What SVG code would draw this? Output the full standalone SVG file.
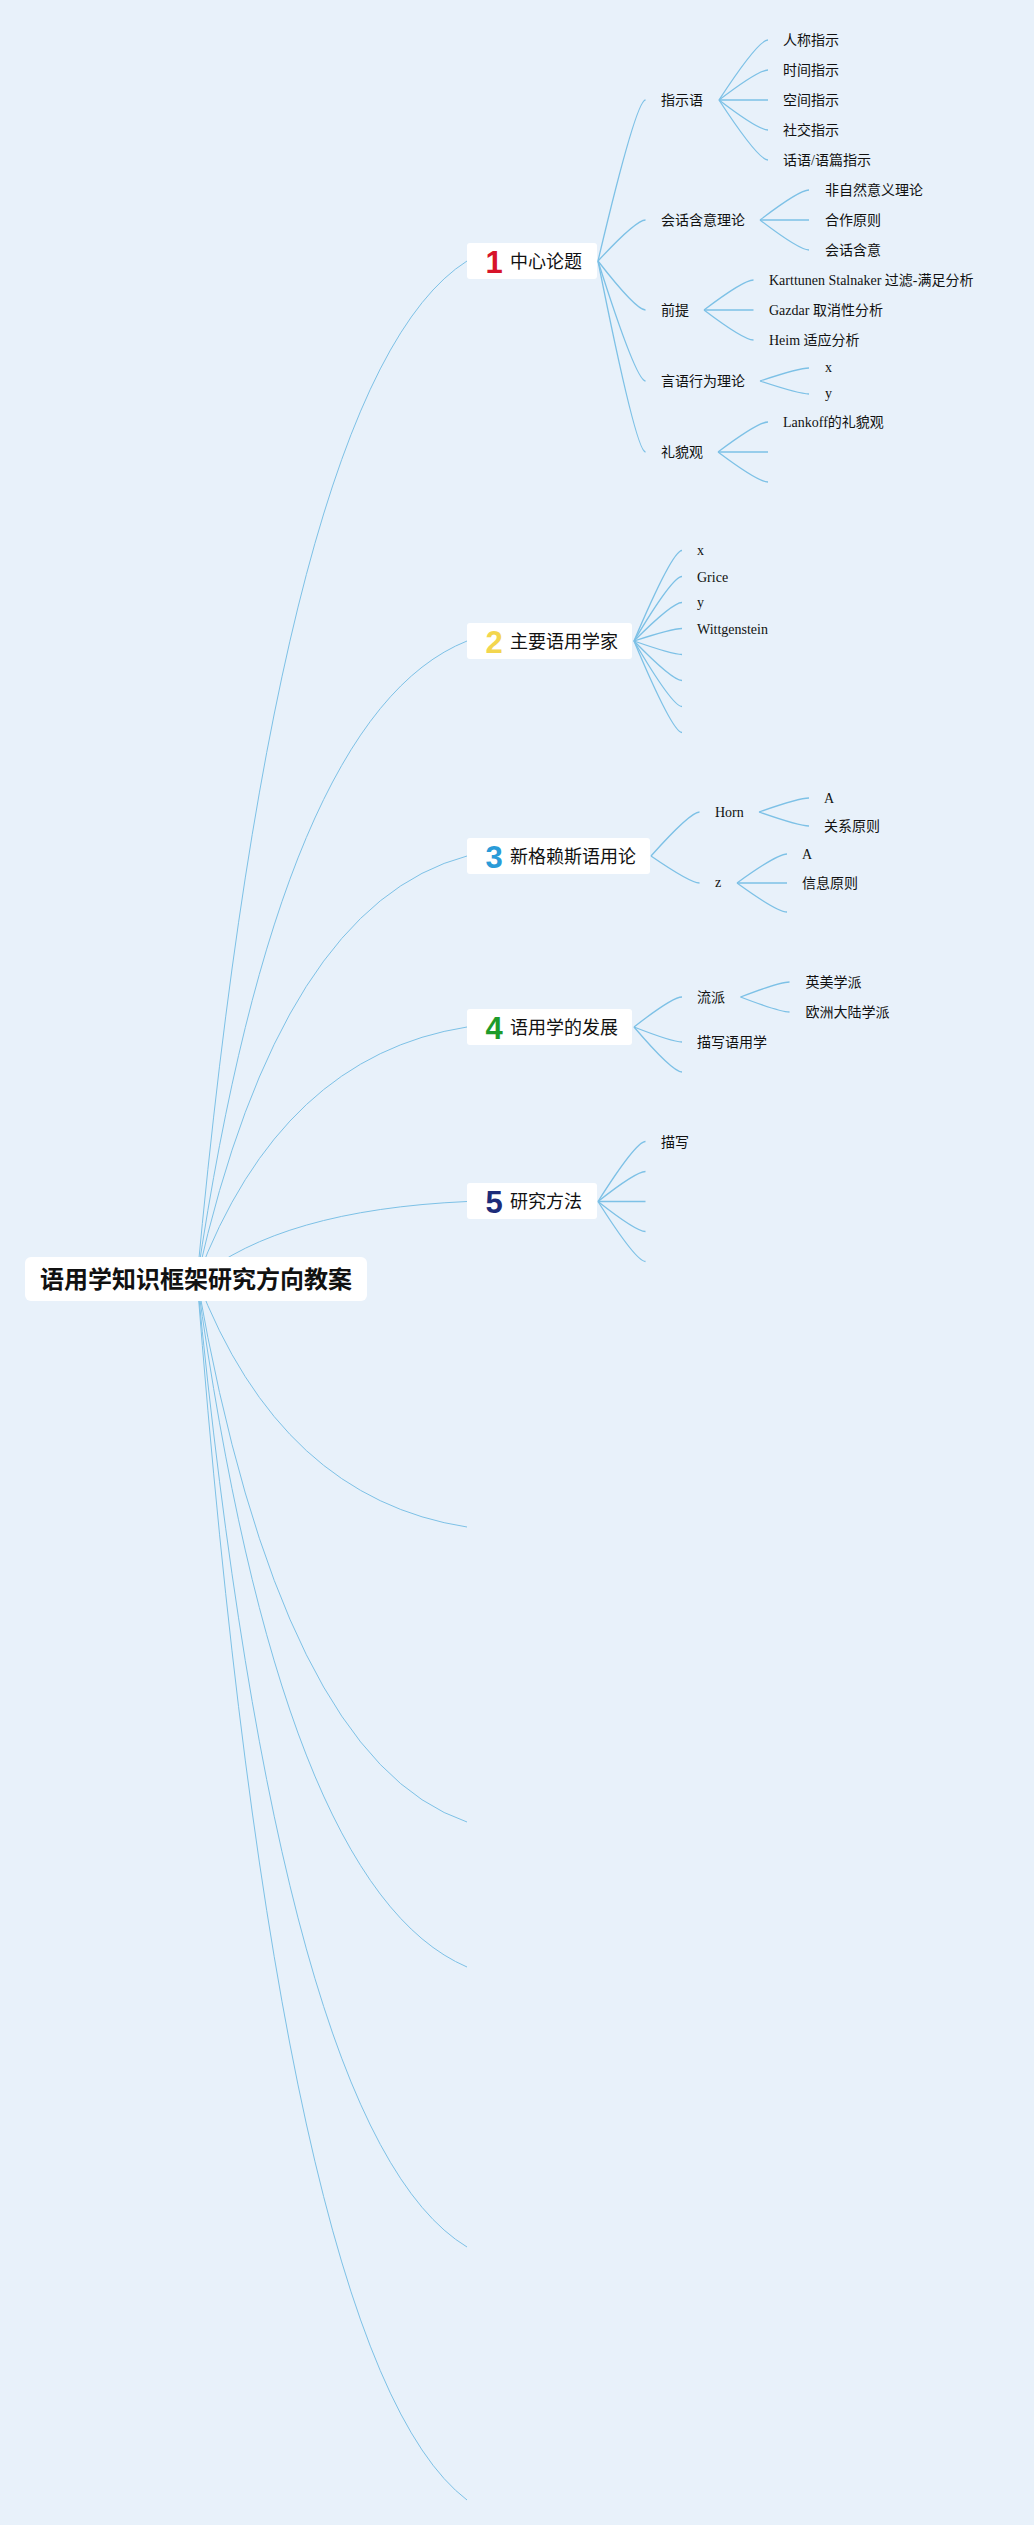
<svg xmlns="http://www.w3.org/2000/svg" width="1034" height="2525" viewBox="0 0 1034 2525">
<style>
.bg{fill:#E8F1FA}
.main{fill:none;stroke:#7DC1E6;stroke-width:1}
.sub{fill:none;stroke:#7DC1E6;stroke-width:1.3}
.box{fill:#FFFFFF}
.root{font-family:"Noto Sans CJK SC","Noto Sans",sans-serif;font-size:24px;font-weight:700;fill:#111}
.num{font-family:"Liberation Sans",Arial,sans-serif;font-size:31px;font-weight:700}
.title{font-family:"Noto Sans CJK SC","Noto Sans",sans-serif;font-size:18px;fill:#111}
.leaf{font-family:"Liberation Serif","Noto Sans CJK SC",serif;font-size:14px;fill:#111}
</style>
<rect class="bg" x="0" y="0" width="1034" height="2525"/>
<g id="connectors">
<path class="main" d="M197 1279 Q280.7 379.1 467 261"/>
<path class="main" d="M197 1279 Q280.7 715 467 641"/>
<path class="main" d="M197 1279 Q280.7 905.1 467 856"/>
<path class="main" d="M197 1279 Q280.7 1056.2 467 1027"/>
<path class="main" d="M197 1279 Q280.7 1210 467 1201.5"/>
<path class="main" d="M197 1279 Q280.7 1498.2 467 1527"/>
<path class="main" d="M197 1279 Q280.7 1759 467 1822"/>
<path class="main" d="M197 1279 Q280.7 1887.2 467 1967"/>
<path class="main" d="M197 1279 Q280.7 2134.7 467 2247"/>
<path class="main" d="M197 1279 Q280.7 2358.4 467 2500"/>
<!-- node 1 -->
<path class="sub" d="M598 261 Q636 100 645.5 100"/>
<path class="sub" d="M598 261 Q636 220 645.5 220"/>
<path class="sub" d="M598 261 Q636 310 645.5 310"/>
<path class="sub" d="M598 261 Q636 381 645.5 381"/>
<path class="sub" d="M598 261 Q636 452 645.5 452"/>
<path class="sub" d="M719 100 Q758.2 40 768 40"/>
<path class="sub" d="M719 100 Q758.2 70 768 70"/>
<path class="sub" d="M719 100 Q758.2 100 768 100"/>
<path class="sub" d="M719 100 Q758.2 130 768 130"/>
<path class="sub" d="M719 100 Q758.2 160 768 160"/>
<path class="sub" d="M760 220 Q799.2 190 809 190"/>
<path class="sub" d="M760 220 Q799.2 220 809 220"/>
<path class="sub" d="M760 220 Q799.2 250 809 250"/>
<path class="sub" d="M704 310 Q743.6 280 753.5 280"/>
<path class="sub" d="M704 310 Q743.6 310 753.5 310"/>
<path class="sub" d="M704 310 Q743.6 340 753.5 340"/>
<path class="sub" d="M760 381 Q799.2 368 809 368"/>
<path class="sub" d="M760 381 Q799.2 394 809 394"/>
<path class="sub" d="M718 452 Q758 422 768 422"/>
<path class="sub" d="M718 452 Q758 452 768 452"/>
<path class="sub" d="M718 452 Q758 482 768 482"/>
<!-- node 2 -->
<path class="sub" d="M634 641 Q672.4 550.5 682 550.5"/>
<path class="sub" d="M634 641 Q672.4 576.5 682 576.5"/>
<path class="sub" d="M634 641 Q672.4 602.5 682 602.5"/>
<path class="sub" d="M634 641 Q672.4 628.5 682 628.5"/>
<path class="sub" d="M634 641 Q672.4 654.5 682 654.5"/>
<path class="sub" d="M634 641 Q672.4 680.5 682 680.5"/>
<path class="sub" d="M634 641 Q672.4 706.5 682 706.5"/>
<path class="sub" d="M634 641 Q672.4 732.5 682 732.5"/>
<!-- node 3 -->
<path class="sub" d="M651 856 Q690.3 812 699.5 812"/>
<path class="sub" d="M651 856 Q690.3 883 699.5 883"/>
<path class="sub" d="M759 812 Q799 798 809 798"/>
<path class="sub" d="M759 812 Q799 826 809 826"/>
<path class="sub" d="M737 883 Q777 854 787 854"/>
<path class="sub" d="M737 883 Q777 883 787 883"/>
<path class="sub" d="M737 883 Q777 912 787 912"/>
<!-- node 4 -->
<path class="sub" d="M634 1027 Q672.4 997 682 997"/>
<path class="sub" d="M634 1027 Q672.4 1042 682 1042"/>
<path class="sub" d="M634 1027 Q672.4 1072 682 1072"/>
<path class="sub" d="M740.5 997 Q779.7 982 789.5 982"/>
<path class="sub" d="M740.5 997 Q779.7 1012 789.5 1012"/>
<!-- node 5 -->
<path class="sub" d="M598 1201.5 Q636 1141.5 645.5 1141.5"/>
<path class="sub" d="M598 1201.5 Q636 1171.5 645.5 1171.5"/>
<path class="sub" d="M598 1201.5 Q636 1201.5 645.5 1201.5"/>
<path class="sub" d="M598 1201.5 Q636 1231.5 645.5 1231.5"/>
<path class="sub" d="M598 1201.5 Q636 1261.5 645.5 1261.5"/>
</g>
<g id="root">
<rect class="box" x="25" y="1257" width="342" height="44" rx="6"/>
<text class="root" x="196" y="1287.5" text-anchor="middle">语用学知识框架研究方向教案</text>
</g>
<g id="n1">
<rect class="box" x="467" y="243" width="130" height="36" rx="3"/>
<text class="num" x="494" y="272.5" text-anchor="middle" fill="#D7142A">1</text>
<text class="title" x="510" y="268">中心论题</text>
</g>
<g id="n2">
<rect class="box" x="467" y="623" width="165" height="36" rx="3"/>
<text class="num" x="494" y="652.5" text-anchor="middle" fill="#F3D64E">2</text>
<text class="title" x="510" y="648">主要语用学家</text>
</g>
<g id="n3">
<rect class="box" x="467" y="838" width="183" height="36" rx="3"/>
<text class="num" x="494" y="867.5" text-anchor="middle" fill="#2A9BD8">3</text>
<text class="title" x="510" y="863">新格赖斯语用论</text>
</g>
<g id="n4">
<rect class="box" x="467" y="1009" width="165" height="36" rx="3"/>
<text class="num" x="494" y="1038.5" text-anchor="middle" fill="#1E9B2A">4</text>
<text class="title" x="510" y="1034">语用学的发展</text>
</g>
<g id="n5">
<rect class="box" x="467" y="1183" width="130" height="36" rx="3"/>
<text class="num" x="494" y="1212.5" text-anchor="middle" fill="#1D2C7A">5</text>
<text class="title" x="510" y="1208">研究方法</text>
</g>
<g id="n1-children">
<text class="leaf" x="661" y="105">指示语</text>
<text class="leaf" x="661" y="225">会话含意理论</text>
<text class="leaf" x="661" y="315">前提</text>
<text class="leaf" x="661" y="386">言语行为理论</text>
<text class="leaf" x="661" y="457">礼貌观</text>
</g>
<g id="n1-leaves">
<text class="leaf" x="783" y="45">人称指示</text>
<text class="leaf" x="783" y="75">时间指示</text>
<text class="leaf" x="783" y="105">空间指示</text>
<text class="leaf" x="783" y="135">社交指示</text>
<text class="leaf" x="783" y="165">话语/语篇指示</text>
<text class="leaf" x="825" y="195">非自然意义理论</text>
<text class="leaf" x="825" y="225">合作原则</text>
<text class="leaf" x="825" y="255">会话含意</text>
<text class="leaf" x="769" y="285">Karttunen Stalnaker 过滤-满足分析</text>
<text class="leaf" x="769" y="315">Gazdar 取消性分析</text>
<text class="leaf" x="769" y="345">Heim 适应分析</text>
<text class="leaf" x="825" y="372">x</text>
<text class="leaf" x="825" y="398">y</text>
<text class="leaf" x="783" y="427">Lankoff的礼貌观</text>
</g>
<g id="n2-children">
<text class="leaf" x="697" y="554.5">x</text>
<text class="leaf" x="697" y="581.5">Grice</text>
<text class="leaf" x="697" y="606.5">y</text>
<text class="leaf" x="697" y="633.5">Wittgenstein</text>
</g>
<g id="n3-children">
<text class="leaf" x="715" y="817">Horn</text>
<text class="leaf" x="715" y="887">z</text>
<text class="leaf" x="824" y="803">A</text>
<text class="leaf" x="824" y="831">关系原则</text>
<text class="leaf" x="802" y="859">A</text>
<text class="leaf" x="802" y="888">信息原则</text>
</g>
<g id="n4-children">
<text class="leaf" x="697" y="1002">流派</text>
<text class="leaf" x="697" y="1047">描写语用学</text>
<text class="leaf" x="805.5" y="987">英美学派</text>
<text class="leaf" x="805.5" y="1017">欧洲大陆学派</text>
</g>
<g id="n5-children">
<text class="leaf" x="661" y="1146.5">描写</text>
</g>
</svg>
